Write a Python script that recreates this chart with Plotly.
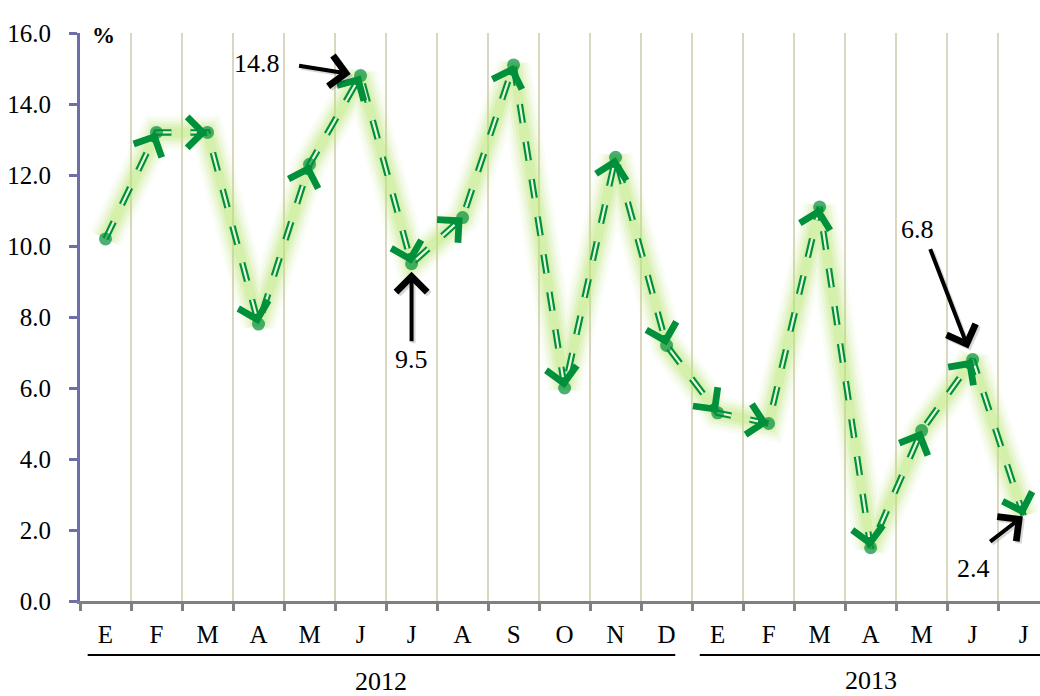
import math
import plotly.graph_objects as go

# ---- data ----
MONTHS = ["E", "F", "M", "A", "M", "J", "J", "A", "S", "O", "N", "D",
          "E", "F", "M", "A", "M", "J", "J"]
VALUES = [10.2, 13.2, 13.2, 7.8, 12.3, 14.8, 9.5, 10.8, 15.1, 6.0, 12.5, 7.2,
          5.3, 5.0, 11.1, 1.5, 4.8, 6.8, 2.4]
YEARS = ["2012", "2013"]
YEAR_COUNTS = [12, 7]
CALLOUT_IDX = [5, 6, 17, 18]
Y_TICKS = [0, 2, 4, 6, 8, 10, 12, 14, 16]

# ---- layout constants ----
W, H = 1040, 696
ML, MR, MT, MB = 80, 0, 33, 95
XR = [-0.5, 18.32]
YR = [0, 16]
PXX = (W - ML - MR) / (XR[1] - XR[0])
PXY = (H - MT - MB) / (YR[1] - YR[0])

GREEN = "#008F3A"
FONT = "Liberation Serif"
X = list(range(len(VALUES)))

fig = go.Figure()

# soft glow
for w, a in [(34, 0.07), (28, 0.11), (22, 0.16), (16, 0.22), (10, 0.28)]:
    fig.add_trace(go.Scatter(x=X, y=VALUES, mode="lines",
                             line=dict(color=f"rgba(188,232,118,{a})", width=w),
                             hoverinfo="skip", showlegend=False))
# dashed double line
DASH = "19px,19px"
fig.add_trace(go.Scatter(x=X, y=VALUES, mode="lines",
                         line=dict(color=GREEN, width=6.5, dash=DASH),
                         hoverinfo="skip", showlegend=False))
fig.add_trace(go.Scatter(x=X, y=VALUES, mode="lines",
                         line=dict(color="#E8F8DE", width=2.2, dash=DASH),
                         hoverinfo="skip", showlegend=False))
# point markers
sizes = [13] * (len(VALUES) - 1) + [0]
fig.add_trace(go.Scatter(x=X, y=VALUES, mode="markers",
                         marker=dict(color=GREEN, size=sizes, line=dict(width=0)),
                         showlegend=False))

annotations = []
# chevron arrowheads at the end of each segment
L = 12
for i in range(1, len(VALUES)):
    dx = (X[i - 1] - X[i]) * PXX
    dy = -(VALUES[i - 1] - VALUES[i]) * PXY
    n = math.hypot(dx, dy)
    annotations.append(dict(x=X[i], y=VALUES[i], xref="x", yref="y", text="",
                            showarrow=True, arrowhead=4, arrowsize=2.3, arrowwidth=2.6,
                            arrowcolor=GREEN, ax=dx / n * L, ay=dy / n * L, standoff=0))

# callouts: (arrow ax, ay, standoff, text xshift, yshift)
CALLOUT_GEOM = [(-63, -10, 10, -104, 12), (0, 79, 8, 0, -96),
                (-43, -112, 12, -55, 130), (-35, 27, 1, -50, -53)]
for idx, (ax, ay, so, tx, ty) in zip(CALLOUT_IDX, CALLOUT_GEOM):
    for sh, col in [(2, "rgba(0,0,0,0.15)"), (0, "black")]:
        annotations.append(dict(x=X[idx], y=VALUES[idx], xref="x", yref="y", text="",
                                showarrow=True, arrowhead=4, arrowsize=1.5, arrowwidth=4,
                                arrowcolor=col, ax=ax, ay=ay, standoff=so,
                                xshift=sh, yshift=-sh))
    annotations.append(dict(x=X[idx], y=VALUES[idx], xref="x", yref="y",
                            text=f"{VALUES[idx]:.1f}", showarrow=False,
                            xshift=tx, yshift=ty,
                            font=dict(family=FONT, size=26, color="black")))

# "%" label
annotations.append(dict(x=(90 - ML) / (W - ML - MR), y=(H - MB - 21) / (H - MT - MB),
                        xref="paper", yref="paper", text="<b>%</b>", showarrow=False,
                        font=dict(family=FONT, size=23, color="black")))

# year groups
shapes = []
start = 0
year_text_y = [-0.1425, -0.1408]
for k, (yr, cnt) in enumerate(zip(YEARS, YEAR_COUNTS)):
    end = start + cnt - 1
    x0 = start - 0.35
    x1 = end + 0.17 if k < len(YEARS) - 1 else XR[1]
    shapes.append(dict(type="line", xref="x", yref="paper", x0=x0, x1=x1,
                       y0=-0.095, y1=-0.095, line=dict(color="black", width=2)))
    annotations.append(dict(x=(x0 + x1) / 2 if k == 0 else (start + end) / 2,
                            y=year_text_y[k], xref="x", yref="paper",
                            text=yr, showarrow=False, yanchor="middle",
                            font=dict(family=FONT, size=26, color="black")))
    start += cnt

fig.update_layout(
    width=W, height=H,
    margin=dict(l=ML, r=MR, t=MT, b=MB, pad=0),
    paper_bgcolor="white", plot_bgcolor="white",
    font=dict(family=FONT, size=25, color="black"),
    annotations=annotations, shapes=shapes,
    xaxis=dict(range=XR, tickmode="array", tickvals=X, ticktext=MONTHS,
               ticks="", showgrid=False, zeroline=False,
               showline=True, linecolor="#808080", linewidth=3,
               tickfont=dict(family=FONT, size=25, color="black"),
               ticklabelstandoff=9,
               minor=dict(tickmode="linear", tick0=-0.5, dtick=1, ticks="outside",
                          ticklen=7, tickwidth=3, tickcolor="#808080",
                          showgrid=True, gridcolor="#DAD7BF", gridwidth=2)),
    yaxis=dict(range=YR, tickmode="array", tickvals=Y_TICKS,
               ticktext=[f"{v:.1f}" for v in Y_TICKS],
               ticks="outside", ticklen=8, tickwidth=3, tickcolor="#6E6EAA",
               showline=True, linecolor="#6E6EAA", linewidth=3,
               showgrid=False, zeroline=False, ticklabelstandoff=13,
               tickfont=dict(family=FONT, size=25, color="black")),
)

fig.write_html("out.html")
